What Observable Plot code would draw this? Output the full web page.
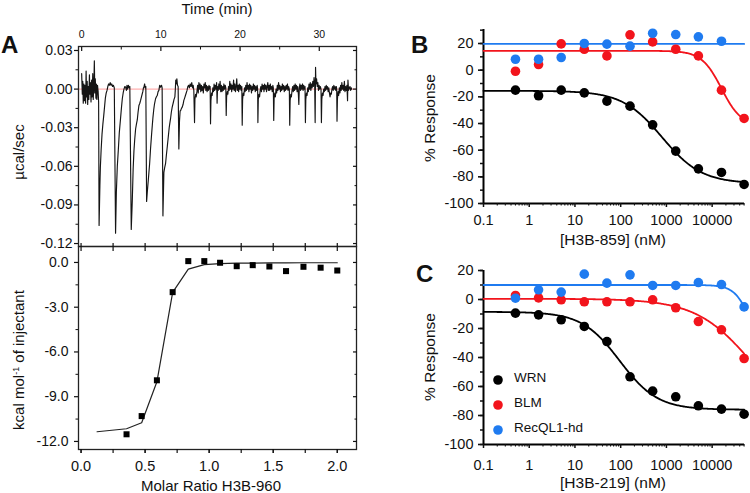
<!DOCTYPE html>
<html><head><meta charset="utf-8">
<script src="https://cdn.jsdelivr.net/npm/d3@7"></script>
<script src="https://cdn.jsdelivr.net/npm/@observablehq/plot@0.6"></script>
<style>
body{margin:0;background:#fff;}
#fig{position:relative;width:750px;height:493px;overflow:hidden;background:#fff;font-family:"Liberation Sans",Arial,Helvetica,sans-serif;color:#111;}
.p{position:absolute;}
.lab{position:absolute;white-space:nowrap;font-size:15px;line-height:1;}
.rot{transform:translate(-50%,-50%) rotate(-90deg);}
.ctr{transform:translate(-50%,-50%);}
.pl{position:absolute;font-weight:bold;font-size:24px;line-height:1;}
.lg{position:absolute;font-size:13.5px;line-height:1;transform:translateY(-50%);}
</style></head><body><div id="fig"></div>
<script>
// ---------- Panel A (ITC) ----------
const itcTrace = [
[0.00,0.012],[0.08,-0.004],[0.14,0.006],[0.2,-0.011],[0.28,0.004],[0.34,-0.009],[0.42,0.003],[0.5,-0.011],[0.56,0.014],[0.62,-0.006],[0.7,0.006],[0.76,-0.012],[0.84,0.002],[0.9,-0.008],[0.98,0.011],[1.04,-0.004],[1.1,0.005],[1.18,-0.010],[1.26,0.007],[1.32,-0.006],[1.4,0.012],[1.46,-0.008],[1.54,0.003],[1.6,0.022],[1.66,-0.003],[1.72,0.008],[1.8,-0.007],[1.86,0.004],[1.92,-0.008],[2.0,0.003],[2.08,-0.002],
[2.14,-0.010],[2.2,-0.106],[2.3,-0.075],[2.36,-0.061],[2.46,-0.047],[2.57,-0.035],[2.68,-0.027],[2.78,-0.021],[2.9,-0.013],[2.99,-0.007],[3.1,-0.003],[3.2,-0.001],[3.3,0.002],[3.4,0.004],[3.5,0.003],[3.6,0.005],[3.7,0.003],[3.8,0.004],[3.9,0.002],[4.0,0.003],[4.12,0.001],
[4.28,-0.112],[4.38,-0.080],[4.5,-0.060],[4.62,-0.048],[4.75,-0.034],[4.92,-0.022],[5.03,-0.014],[5.13,-0.0075],[5.24,-0.003],[5.34,0.000],[5.45,0.002],[5.55,0.0015],[5.65,-0.001],[5.72,0.003],[5.8,0.000],[5.9,0.003],[6.0,0.001],[6.08,0.002],
[6.26,-0.109],[6.39,-0.087],[6.5,-0.062],[6.6,-0.048],[6.7,-0.039],[6.81,-0.031],[6.92,-0.027],[7.02,-0.024],[7.12,-0.018],[7.23,-0.0127],[7.34,-0.011],[7.44,-0.0088],[7.55,-0.006],[7.65,-0.0036],[7.72,-0.002],[7.8,0.001],[7.86,0.0015],[7.95,0.004],[8.02,0.001],[8.1,0.002],
[8.2,-0.0873],[8.3,-0.079],[8.41,-0.071],[8.5,-0.064],[8.58,-0.058],[8.7,-0.046],[8.83,-0.035],[8.92,-0.028],[9.0,-0.022],[9.1,-0.016],[9.2,-0.0114],[9.33,-0.0075],[9.44,-0.006],[9.54,-0.005],[9.65,-0.002],[9.75,-0.001],[9.85,0.003],[9.96,0.0015],[10.08,0.003],[10.16,0.001],
[10.26,-0.0985],[10.38,-0.0647],[10.48,-0.061],[10.59,-0.058],[10.7,-0.051],[10.82,-0.044],[10.93,-0.0374],[11.05,-0.030],[11.12,-0.027],[11.22,-0.023],[11.32,-0.018],[11.43,-0.014],[11.55,-0.011],[11.66,-0.008],[11.77,-0.006],[11.82,-0.001],[11.88,0.007],[11.95,0.004],[12.02,0.008],[12.1,0.003],[12.18,0.002],
[12.27,-0.0465],[12.35,-0.025],[12.43,-0.017],[12.5,-0.0166],[12.6,-0.015],[12.7,-0.014],[12.8,-0.012],[12.9,-0.0088],[13.0,-0.007],[13.1,-0.005],[13.2,-0.003],[13.3,-0.001],[13.4,0.002],[13.5,0.003],[13.6,0.001],[13.7,0.004],[13.8,0.002],[13.9,0.005],[14.0,0.001],[14.08,0.003],[14.16,-0.001],
[14.25,-0.026],[14.3,-0.008],[14.38,-0.004],[14.46,-0.006],[14.55,-0.002],[14.64,0.003],[14.72,-0.003],[14.8,0.005],[14.88,0.000],[14.96,0.004],[15.04,-0.002],[15.12,0.003],[15.2,-0.001],[15.28,0.002],[15.36,-0.003],[15.44,0.004],[15.52,0.001],[15.6,0.005],[15.68,-0.001],[15.76,0.003],[15.84,-0.002],[15.92,0.002],[16.0,-0.001],[16.08,0.003],[16.16,0.000],[16.22,0.002],
[16.27,-0.027],[16.32,-0.009],[16.4,-0.003],[16.48,-0.005],[16.56,0.001],[16.64,-0.002],[16.72,0.004],[16.8,-0.001],[16.88,0.003],[16.96,0.000],[17.04,0.005],[17.1,-0.011],[17.16,0.002],[17.24,-0.001],[17.32,0.004],[17.4,0.000],[17.48,0.006],[17.56,-0.002],[17.64,0.003],[17.72,-0.002],[17.8,0.002],[17.88,-0.001],[17.96,0.004],[18.04,0.000],[18.12,0.003],[18.2,0.001],
[18.25,-0.0205],[18.3,-0.006],[18.38,-0.002],[18.46,-0.004],[18.54,0.002],[18.62,-0.001],[18.7,0.006],[18.78,0.000],[18.86,0.004],[18.94,-0.002],[19.02,0.003],[19.1,0.000],[19.18,0.007],[19.26,-0.001],[19.34,0.004],[19.42,-0.002],[19.5,0.002],[19.58,0.008],[19.66,-0.001],[19.74,0.003],[19.82,-0.002],[19.9,0.004],[19.98,0.000],[20.06,0.003],[20.14,-0.001],[20.22,0.002],
[20.27,-0.028],[20.32,-0.008],[20.4,-0.003],[20.48,-0.005],[20.56,0.001],[20.64,-0.002],[20.72,0.003],[20.8,-0.001],[20.88,0.005],[20.96,0.000],[21.04,0.003],[21.12,-0.002],[21.2,0.004],[21.28,0.000],[21.36,0.003],[21.44,-0.003],[21.52,0.002],[21.6,-0.001],[21.68,0.004],[21.76,0.000],[21.84,0.003],[21.92,-0.002],[22.0,0.002],[22.08,-0.001],[22.16,0.003],[22.22,0.000],
[22.25,-0.026],[22.3,-0.008],[22.38,-0.004],[22.46,-0.006],[22.54,-0.001],[22.62,0.002],[22.7,-0.002],[22.78,0.004],[22.86,0.000],[22.94,0.003],[23.02,-0.002],[23.1,0.004],[23.18,0.000],[23.26,0.003],[23.34,-0.002],[23.42,0.002],[23.5,0.005],[23.58,-0.001],[23.66,0.003],[23.74,-0.001],[23.82,0.004],[23.9,0.000],[23.98,0.002],[24.06,-0.002],[24.14,0.003],[24.2,0.001],
[24.25,-0.0244],[24.3,-0.007],[24.38,-0.003],[24.46,-0.006],[24.54,0.000],[24.62,-0.003],[24.7,0.003],[24.78,-0.001],[24.86,0.005],[24.94,0.000],[25.02,0.003],[25.1,-0.002],[25.18,0.002],[25.26,-0.001],[25.34,0.004],[25.42,0.000],[25.5,0.003],[25.58,-0.002],[25.66,0.002],[25.74,-0.001],[25.82,0.003],[25.9,0.000],[25.98,0.004],[26.06,-0.001],[26.14,0.002],[26.22,0.000],
[26.27,-0.028],[26.32,-0.009],[26.4,-0.004],[26.48,-0.006],[26.56,-0.001],[26.64,0.002],[26.72,-0.002],[26.8,0.003],[26.88,-0.001],[26.96,0.004],[27.04,0.000],[27.12,0.003],[27.2,-0.002],[27.28,0.002],[27.36,-0.004],[27.42,-0.012],[27.48,0.001],[27.56,0.004],[27.64,-0.001],[27.72,0.003],[27.8,0.000],[27.88,0.004],[27.96,-0.001],[28.04,0.003],[28.12,0.000],[28.2,0.002],
[28.25,-0.026],[28.3,-0.008],[28.38,-0.003],[28.46,-0.005],[28.54,0.001],[28.62,-0.002],[28.7,0.004],[28.78,0.000],[28.86,0.005],[28.94,-0.001],[29.02,0.004],[29.1,0.001],[29.18,0.006],[29.26,0.002],[29.34,0.009],[29.42,0.003],[29.48,-0.026],[29.53,0.017],[29.58,0.004],[29.66,0.008],[29.74,0.002],[29.82,0.005],[29.9,-0.001],[29.98,0.003],[30.06,0.000],[30.14,0.002],[30.22,0.000],
[30.27,-0.026],[30.32,-0.008],[30.4,-0.003],[30.48,-0.005],[30.56,0.000],[30.64,-0.002],[30.72,0.002],[30.8,-0.001],[30.88,0.003],[30.96,0.000],[31.04,0.002],[31.12,-0.002],[31.2,0.001],[31.28,-0.003],[31.36,-0.006],[31.44,-0.003],[31.52,-0.004],[31.6,0.000],[31.68,0.002],[31.76,-0.001],[31.84,0.003],[31.92,0.000],[32.0,0.002],[32.08,-0.001],[32.16,0.002],[32.2,0.000],
[32.24,-0.025],[32.29,-0.008],[32.37,-0.002],[32.45,-0.005],[32.53,0.001],[32.61,-0.003],[32.69,0.003],[32.77,-0.001],[32.85,0.005],[32.93,0.000],[33.01,0.003],[33.09,-0.001],[33.17,0.006],[33.25,-0.002],[33.33,0.002],[33.41,-0.001],[33.49,0.003],[33.57,-0.009],[33.62,0.007],[33.7,-0.001],[33.8,0.001],[33.88,0.002],[33.96,-0.001],[34.04,0.001],[34.1,0.000]
];
const molarRatio = [0.355,0.473,0.592,0.715,0.837,0.962,1.085,1.215,1.34,1.47,1.60,1.736,1.87,2.0];
const heat       = [-11.52,-10.3,-7.9,-1.99,0.09,0.09,-0.02,-0.25,-0.18,-0.27,-0.58,-0.29,-0.35,-0.54];
const fitRatio   = [0.125,0.355,0.473,0.592,0.715,0.837,0.962,1.085,1.215,1.34,1.47,1.60,1.736,1.87,2.0];
const fitHeat    = [-11.35,-11.15,-10.75,-8.0,-2.0,-0.45,-0.15,-0.08,-0.05,-0.04,-0.03,-0.03,-0.02,-0.02,-0.02];
const aTopYTicks = [0.03,0,-0.03,-0.06,-0.09,-0.12];
const aTopYMinor = [0.015,-0.015,-0.045,-0.075,-0.105];
const timeTicks = [0,10,20,30];
const timeMinor = [5,15,25];
const aBotYTicks = [0,-3,-6,-9,-12];
const aBotYMinor = [-1.5,-4.5,-7.5,-10.5];
const ratioTicks = [0,0.5,1,1.5,2];
const ratioMinor = [0,0.25,0.5,0.75,1,1.25,1.5,1.75,2];

// ---------- Panels B and C (dose response) ----------
const conc = [0.5,1.6,5,16,50,160,500,1600,5000,16000,50000];
const bWRN  = [-15,-19.2,-15,-17,-23.2,-27,-41,-60.7,-74,-76.7,-85.7];
const bBLM  = [-0.8,4.2,19.7,15.7,10.7,26.5,21.2,15.7,10.7,-15,-36.2];
const bRecQ = [8.2,8.2,9.5,20,19.5,18,27.7,26.7,25,21.7];
const cWRN  = [-9.4,-10.6,-14,-18.6,-29,-53.3,-63.2,-67.1,-73.3,-75.6,-79.1];
const cBLM  = [2.8,1.1,-0.2,-1.6,-1.6,-1.6,-0.2,-5.7,-15.2,-20.9,-40.7];
const cRecQ = [0.9,6.7,5.1,17.5,11.3,17,9.7,9.7,11.7,10.3,-5.1];
// fitted four-parameter curves: [top, bottom, IC50 (nM), Hill slope]
const bFitWRN  = [-15.5,-85,800,1.0];
const bFitBLM  = [14.5,-42,16000,2.0];
const bFitRecQ = [19.7,19.7,1,1];
const cFitWRN  = [-8.5,-76,95,1.05];
const cFitBLM  = [0.5,-90,80000,0.7];
const cFitRecQ = [10,-40,70000,2.5];
const seriesNames = ["WRN","BLM","RecQL1-hd"];
const seriesColors = ["#000000","#f2141c","#1f7bf0"];
const xDecades = [0.1,1,10,100,1000,10000];
const bYTicks = [-100,-80,-60,-40,-20,0,20];
const cYTicks = [-100,-80,-60,-40,-20,0,20];

// ---------- drawing ----------
const FONT = '"Liberation Sans", Arial, Helvetica, sans-serif';
const fig = document.getElementById("fig");
function place(node, left, top) {
  const d = document.createElement("div");
  d.className = "p"; d.style.left = left + "px"; d.style.top = top + "px";
  d.appendChild(node); fig.appendChild(d);
}
function label(text, left, top, cls, extra) {
  const d = document.createElement("div");
  d.className = cls; d.style.left = left + "px"; d.style.top = top + "px";
  d.innerHTML = text; if (extra) Object.assign(d.style, extra);
  fig.appendChild(d);
}
const style = {fontFamily: FONT, background: "transparent", color: "#111", overflow: "visible", maxWidth: "none"};
const blank = () => "";

// A upper: raw thermogram
place(Plot.plot({
  width: 375, height: 250, marginLeft: 78, marginRight: 19, marginTop: 46, marginBottom: 4,
  x: {domain: [-0.4, 34.7]}, y: {domain: [-0.1223, 0.0331]}, style,
  marks: [
    Plot.ruleY([0], {stroke: "#ff9c9c", strokeWidth: 1}),
    Plot.line(itcTrace, {x: d => d[0], y: d => d[1], stroke: "#151515", strokeWidth: 1.15}),
    Plot.frame({stroke: "#222", strokeWidth: 1.3}),
    Plot.axisY(aTopYTicks, {anchor: "left", tickSize: 4, tickPadding: 2, tickFormat: d => d.toFixed(2), fontSize: 14, label: null, strokeWidth: 1.2}),
    Plot.axisY(aTopYMinor, {anchor: "left", tickSize: 2.5, tickFormat: blank, label: null}),
    Plot.axisY(aTopYTicks, {anchor: "right", tickSize: 4, dx: -4, tickFormat: blank, label: null, strokeWidth: 1.2}),
    Plot.axisY(aTopYMinor, {anchor: "right", tickSize: 2.5, dx: -2.5, tickFormat: blank, label: null}),
    Plot.axisX(timeTicks, {anchor: "top", tickSize: 0, tickPadding: 9, fontSize: 10.5, label: null}),
    Plot.axisX(timeTicks, {anchor: "top", tickSize: 4, dy: 4, tickFormat: blank, label: null, strokeWidth: 1.2}),
    Plot.axisX(timeMinor, {anchor: "top", tickSize: 2.5, dy: 2.5, tickFormat: blank, label: null})
  ]
}), 0, 0);

// A lower: integrated heats
place(Plot.plot({
  width: 375, height: 253, marginLeft: 78, marginRight: 19, marginTop: 6, marginBottom: 44,
  x: {domain: [-0.02, 2.15]}, y: {domain: [-12.54, 1.07]}, style,
  marks: [
    Plot.line(fitRatio, {x: d => d, y: (d, i) => fitHeat[i], stroke: "#222", strokeWidth: 1.2}),
    Plot.dot(molarRatio, {x: d => d, y: (d, i) => heat[i], symbol: "square", r: 3.4, fill: "#000", stroke: "none"}),
    Plot.frame({stroke: "#222", strokeWidth: 1.3}),
    Plot.axisY(aBotYTicks, {anchor: "left", tickSize: 4, tickPadding: 6, tickFormat: d => d.toFixed(1), fontSize: 14, label: null, strokeWidth: 1.2}),
    Plot.axisY(aBotYMinor, {anchor: "left", tickSize: 2.5, tickFormat: blank, label: null}),
    Plot.axisY(aBotYTicks, {anchor: "right", tickSize: 4, dx: -4, tickFormat: blank, label: null, strokeWidth: 1.2}),
    Plot.axisY(aBotYMinor, {anchor: "right", tickSize: 2.5, dx: -2.5, tickFormat: blank, label: null}),
    Plot.axisX(ratioMinor, {anchor: "bottom", tickSize: 4, tickFormat: blank, label: null, strokeWidth: 1.2}),
    Plot.axisX(ratioTicks, {anchor: "bottom", tickSize: 4, tickPadding: 7, tickFormat: d => d.toFixed(1), fontSize: 14.5, label: null, strokeWidth: 1.2}),
    Plot.axisX(ratioMinor, {anchor: "top", tickSize: 8, dy: 4, tickFormat: blank, label: null, strokeWidth: 1.2})
  ]
}), 0, 240);

// B and C
const minorLog = [];
for (let e = -1; e <= 4; e++) for (let m = 2; m <= 9; m++) { const v = m * 10 ** e; if (v <= 50000) minorLog.push(+v.toPrecision(3)); }
const curveX = d3.range(0, 286).map(i => 10 ** (-1 + i * 0.02));
function fitCurve([top, bottom, ic, h]) {
  return curveX.map(x => ({x, y: bottom + (top - bottom) / (1 + Math.pow(x / ic, h))}));
}
function dose(yDomain, yTicks, mt, mb, height, xPad, sets, fits) {
  const minorY = d3.range(yDomain[0], yDomain[1] + 0.01, 10);
  return Plot.plot({
    width: 375, height, marginLeft: 108, marginRight: 6, marginTop: mt, marginBottom: mb,
    x: {type: "log", domain: [0.1, 51000]}, y: {domain: yDomain}, style,
    marks: [
      Plot.ruleX([0.1], {stroke: "#000", strokeWidth: 2}),
      Plot.ruleY([yDomain[0]], {stroke: "#000", strokeWidth: 2}),
      Plot.axisY(minorY, {anchor: "left", tickSize: 3, tickFormat: blank, label: null, strokeWidth: 1.5}),
      Plot.axisY(yTicks, {anchor: "left", tickSize: 5, tickPadding: 5, tickFormat: d => String(d), fontSize: 14.5, label: null, strokeWidth: 1.6}),
      Plot.axisX(minorLog, {anchor: "bottom", tickSize: 2.5, tickFormat: blank, label: null, strokeWidth: 1.1}),
      Plot.axisX(xDecades, {anchor: "bottom", tickSize: 4, tickPadding: xPad, tickFormat: d => String(d), fontSize: 14.5, label: null, strokeWidth: 1.5}),
      ...fits.map((f, k) => Plot.line(fitCurve(f), {x: "x", y: "y", stroke: seriesColors[k], strokeWidth: 1.8})),
      ...sets.map((s, k) => Plot.dot(s, {x: (d, i) => conc[i], y: d => d, r: 4.8, fill: seriesColors[k], stroke: "none"}))
    ]
  });
}
place(dose([-100, 30.5], bYTicks, 29, 47, 250, 7, [bWRN, bBLM, bRecQ], [bFitWRN, bFitBLM, bFitRecQ]), 375, 0);
place(dose([-100, 20], cYTicks, 20, 49, 243, 11, [cWRN, cBLM, cRecQ], [cFitWRN, cFitBLM, cFitRecQ]), 375, 250);

// Texts
label("Time (min)", 217, 8, "lab ctr");
label("Molar Ratio H3B-960", 211, 485, "lab ctr");
label("µcal/sec", 18, 152, "lab rot");
label("kcal mol<sup style='font-size:9px;vertical-align:5px'>-1</sup> of injectant", 18, 360, "lab rot");
label("[H3B-859] (nM)", 613, 240, "lab ctr", {fontSize: "15.5px"});
label("[H3B-219] (nM)", 613, 483, "lab ctr", {fontSize: "15.5px"});
label("% Response", 430, 118, "lab rot", {fontSize: "15.5px"});
label("% Response", 430, 357, "lab rot", {fontSize: "15.5px"});
label("A", 1, 33, "pl");
label("B", 411, 33, "pl");
label("C", 416, 262, "pl");

// Legend (panel C)
const legY = [378, 403, 428];
seriesNames.forEach((name, k) => {
  const s = document.createElementNS("http://www.w3.org/2000/svg", "svg");
  s.setAttribute("width", 12); s.setAttribute("height", 12);
  s.innerHTML = `<circle cx="6" cy="6" r="4.8" fill="${seriesColors[k]}"/>`;
  place(s, 492, legY[k] - 6);
  label(name, 514, legY[k], "lg");
});
</script></body></html>
